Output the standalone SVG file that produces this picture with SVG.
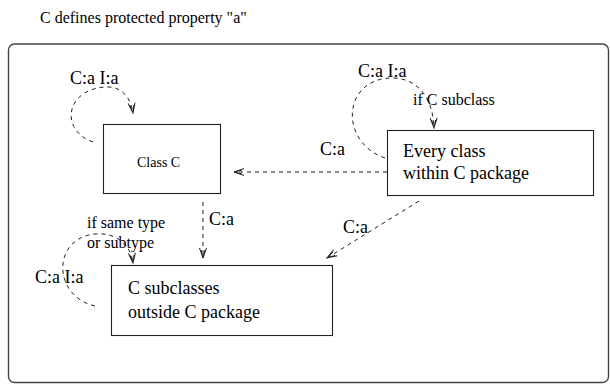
<svg xmlns="http://www.w3.org/2000/svg" width="610" height="385" viewBox="0 0 610 385">
<style>
text{font-family:"Liberation Serif","Times New Roman",serif;fill:#000}
.box{fill:#fff;stroke:#222;stroke-width:1.1}
.c{fill:none;stroke:#222;stroke-width:1;stroke-dasharray:4 4}
.big{font-size:18px}
.lbl{font-size:18px}
.cond{font-size:16px}
</style>
<defs>
<marker id="ah" markerUnits="userSpaceOnUse" markerWidth="14" markerHeight="10" refX="0" refY="0" viewBox="-12 -5 14 10" orient="auto">
<path d="M-10,-3.5 L0,0 L-10,3.5 M-8,-2 L0,0 L-8,2" fill="none" stroke="#222" stroke-width="1"/>
</marker>
</defs>
<rect width="610" height="385" fill="#fff"/>
<text x="40" y="23" style="font-size:16px">C defines protected property "a"</text>
<rect x="8.5" y="44" width="600" height="338.5" rx="6" fill="none" stroke="#444" stroke-width="1.4"/>
<g id="connectors">
<path class="c" d="M93,142 C58,130 66,86 110,87 C123,88 131,99 133,113" marker-end="url(#ah)"/>
<path class="c" d="M385,158 C338,142 342,76 395,78 C420,80 433,100 434,128" marker-end="url(#ah)"/>
<path class="c" d="M387,172 L234,172" marker-end="url(#ah)"/>
<path class="c" d="M203,202 L203,258" marker-end="url(#ah)"/>
<path class="c" d="M419,201 L327,258" marker-end="url(#ah)"/>
<path class="c" d="M95,306 C52,296 52,238 95,234 C116,232 131,245 133,263" marker-end="url(#ah)"/>
<text class="lbl" x="70" y="84">C:a I:a</text>
<text class="lbl" x="358" y="77">C:a I:a</text>
<text class="cond" x="413" y="105">if C subclass</text>
<text class="lbl" x="320" y="155">C:a</text>
<text class="lbl" x="209" y="225">C:a</text>
<text class="lbl" x="343" y="233">C:a</text>
<text class="cond" x="87" y="228">if same type</text>
<text class="cond" x="87" y="248">or subtype</text>
<text class="lbl" x="35" y="283">C:a I:a</text>
</g>
<g id="classC">
<rect class="box" x="103.5" y="124.5" width="117" height="69"/>
<text x="137" y="167" style="font-size:14px">Class C</text>
</g>
<g id="everyClass">
<rect class="box" x="387.5" y="130.5" width="206" height="65"/>
<text class="big" x="403" y="157">Every class</text>
<text class="big" x="403" y="179">within C package</text>
</g>
<g id="subclasses">
<rect class="box" x="111.5" y="265.5" width="221" height="70"/>
<text class="big" x="128" y="294">C subclasses</text>
<text class="big" x="128" y="318">outside C package</text>
</g>
</svg>
